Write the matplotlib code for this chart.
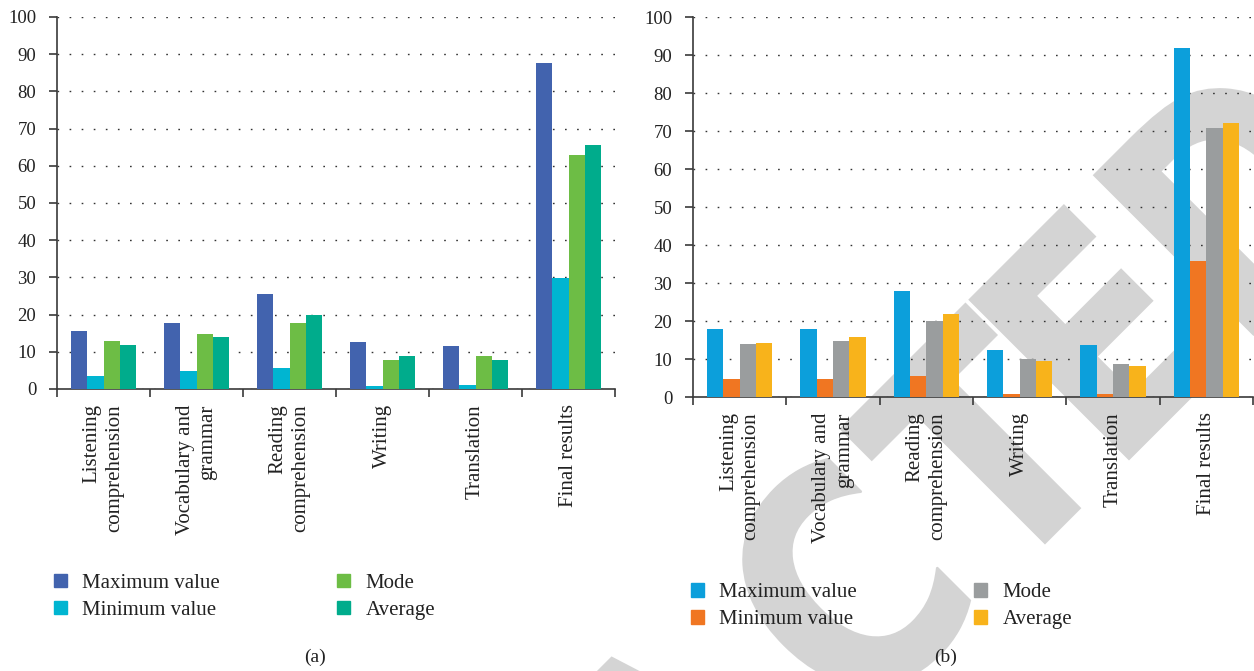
import numpy as np
import matplotlib
matplotlib.use("Agg")
import matplotlib.pyplot as plt
import matplotlib.patches as mpatches
from matplotlib.textpath import TextPath
from matplotlib.font_manager import FontProperties
from matplotlib.transforms import Affine2D

plt.rcParams["font.family"] = ["Liberation Serif", "DejaVu Serif"]

categories = [
    "Listening\ncomprehension",
    "Vocabulary and\ngrammar",
    "Reading\ncomprehension",
    "Writing",
    "Translation",
    "Final results",
]
series_names = ["Maximum value", "Minimum value", "Mode", "Average"]

# panel (a)
a_max = [15.7, 17.8, 25.6, 12.7, 11.6, 87.6]
a_min = [3.6, 4.9, 5.7, 0.9, 1.2, 29.9]
a_mode = [13.0, 14.9, 17.8, 7.9, 8.9, 62.9]
a_avg = [11.9, 14.0, 20.0, 8.9, 7.9, 65.6]
a_colors = ["#4263ae", "#00b5d1", "#6dbd45", "#00ac8c"]

# panel (b)
b_max = [17.9, 17.9, 27.9, 12.4, 13.7, 91.8]
b_min = [4.8, 4.8, 5.6, 0.9, 0.9, 35.7]
b_mode = [14.0, 14.8, 20.0, 10.0, 8.7, 70.8]
b_avg = [14.2, 15.8, 21.8, 9.5, 8.2, 72.1]
b_colors = ["#0c9fdb", "#f07622", "#9a9d9e", "#f8b31b"]

AXIS_COLOR = "#3a3a3a"
STAMP_WORD = "RETRACTED"
STAMP_GAPS = [6, 6, 6, 6, 60, 30, 6, 40]   # px between consecutive letters


def draw_stamp(fig, size=309, squeeze=0.85, origin=(1129, 212), key=7):
    """Grey diagonal lettering, laid out letter by letter in pixel units."""
    prop = FontProperties(family="DejaVu Sans", weight="bold")
    glyphs = [TextPath((0, 0), ch, size=size, prop=prop) for ch in STAMP_WORD]
    lefts, u = [], 0.0
    for i, g in enumerate(glyphs):
        ext = g.get_extents()
        lefts.append(u)
        u += (ext.x1 - ext.x0) * squeeze
        if i < len(STAMP_GAPS):
            u += STAMP_GAPS[i]
    shift = lefts[key]
    for g, left in zip(glyphs, lefts):
        ext = g.get_extents()
        tf = (Affine2D().translate(-ext.x0, 0).scale(squeeze, 1.0)
              .translate(left - shift, 0).rotate_deg(45)
              .translate(*origin).scale(1 / 100) + fig.dpi_scale_trans)
        fig.add_artist(mpatches.PathPatch(g, transform=tf, facecolor="#d4d4d4",
                                          edgecolor="#d4d4d4", linewidth=1.5,
                                          zorder=-5))


def draw_panel(ax, values, colors, legend_anchor, tag, tag_x):
    x = np.arange(len(categories))
    width = 0.175
    offsets = (np.arange(4) - 1.5) * width
    handles = []
    for vals, off, col, name in zip(values, offsets, colors, series_names):
        ax.bar(x + off, vals, width=width, color=col, zorder=3, linewidth=0)
        handles.append(mpatches.Patch(color=col, label=name))

    ax.set_facecolor("none")
    ax.set_xlim(-0.5, len(categories) - 0.5)
    ax.set_ylim(0, 100)
    ax.set_yticks(np.arange(0, 101, 10))
    ax.yaxis.grid(True, color="#333333", linestyle=(0, (1.2, 7.5)), linewidth=1.0)
    ax.set_axisbelow(True)

    # major ticks mark group boundaries, minor ticks carry the names
    ax.set_xticks(np.arange(-0.5, len(categories), 1.0))
    ax.set_xticklabels([])
    ax.set_xticks(x, categories, minor=True)
    ax.tick_params(axis="x", which="major", length=6, width=1.2, color=AXIS_COLOR)
    ax.tick_params(axis="x", which="minor", length=0, pad=11, labelsize=15,
                   labelcolor="#222222")
    for lbl in ax.get_xticklabels(minor=True):
        lbl.set_rotation(90)
        lbl.set_multialignment("right")
        lbl.set_linespacing(1.25)
    ax.tick_params(axis="y", length=6, width=1.2, color=AXIS_COLOR, pad=9,
                   labelsize=13.5, labelcolor="#222222")

    for side in ("top", "right"):
        ax.spines[side].set_visible(False)
    for side in ("left", "bottom"):
        ax.spines[side].set_color(AXIS_COLOR)
        ax.spines[side].set_linewidth(1.2)

    fig = ax.figure
    fig.legend(handles=handles, ncol=2, loc="upper left",
               bbox_to_anchor=legend_anchor, frameon=False, fontsize=15,
               handlelength=0.62, handleheight=0.62, handletextpad=0.75,
               columnspacing=5.6, labelspacing=0.38, borderaxespad=0,
               borderpad=0, labelcolor="#222222")
    fig.text(tag_x, 0.02, tag, ha="center", va="center", fontsize=14,
             color="#222222")


fig = plt.figure(figsize=(12.54, 6.71), dpi=100)
draw_stamp(fig)

ax_a = fig.add_axes([0.0455, 0.4203, 0.445, 0.5544])
ax_b = fig.add_axes([0.5526, 0.4083, 0.4466, 0.5663])

draw_panel(ax_a, [a_max, a_min, a_mode, a_avg], a_colors,
           (0.043, 0.145), "(a)", 0.251)
draw_panel(ax_b, [b_max, b_min, b_mode, b_avg], b_colors,
           (0.551, 0.131), "(b)", 0.754)

fig.savefig("out.png", dpi=100)
